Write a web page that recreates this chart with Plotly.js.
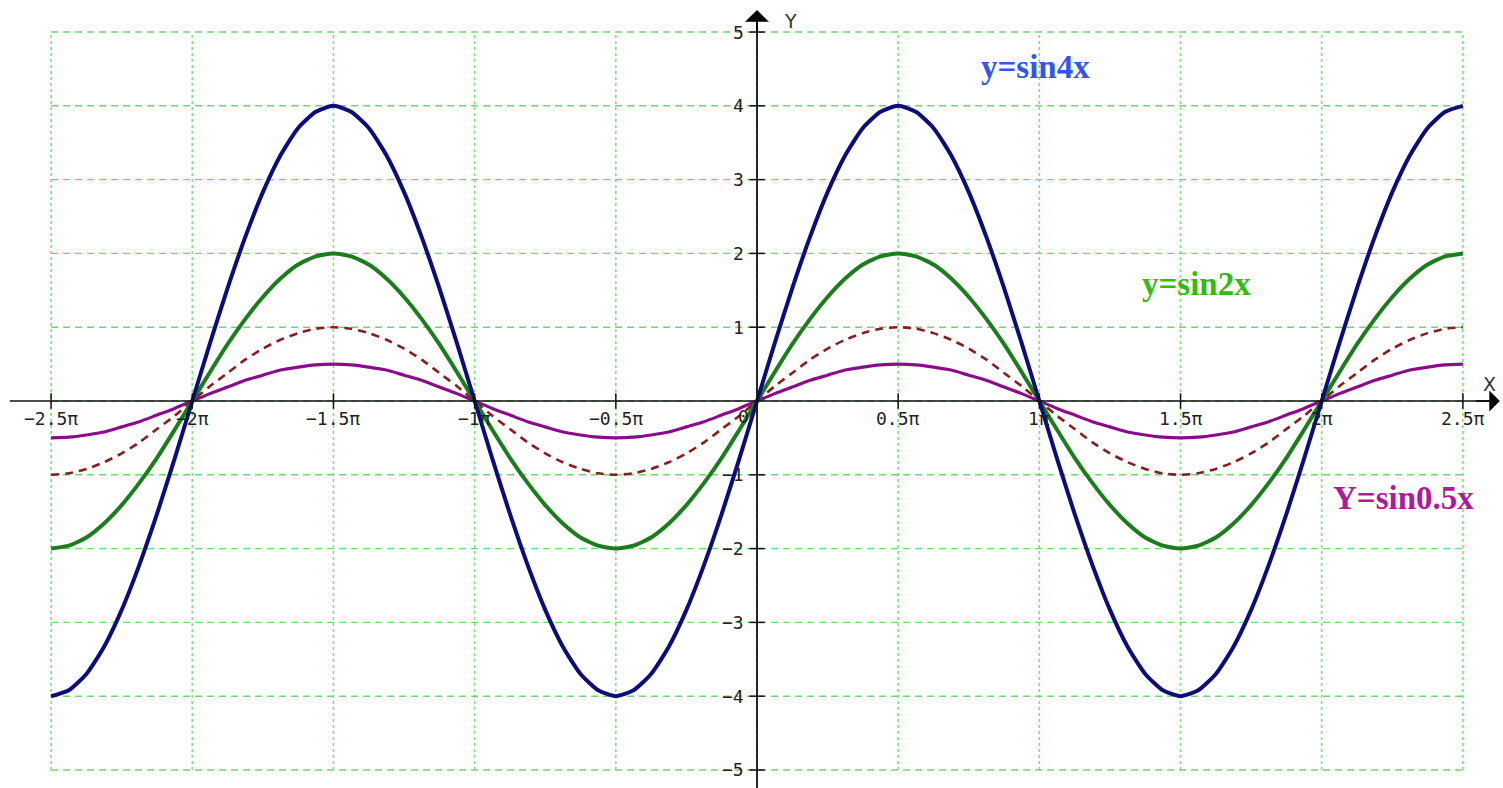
<!DOCTYPE html>
<html>
<head>
<meta charset="utf-8">
<script src="https://cdn.plot.ly/plotly-3.0.1.min.js"></script>
<style>html,body{margin:0;padding:0;background:#fff;}#chart{width:1503px;height:788px;}</style>
</head>
<body>
<div id="chart"></div>
<script>
// x in units of π
const xPi = [-2.5,-2.4375,-2.375,-2.3125,-2.25,-2.1875,-2.125,-2.0625,-2,
  -1.9375,-1.875,-1.8125,-1.75,-1.6875,-1.625,-1.5625,-1.5,
  -1.4375,-1.375,-1.3125,-1.25,-1.1875,-1.125,-1.0625,-1,
  -0.9375,-0.875,-0.8125,-0.75,-0.6875,-0.625,-0.5625,-0.5,
  -0.4375,-0.375,-0.3125,-0.25,-0.1875,-0.125,-0.0625,0,
  0.0625,0.125,0.1875,0.25,0.3125,0.375,0.4375,0.5,
  0.5625,0.625,0.6875,0.75,0.8125,0.875,0.9375,1,
  1.0625,1.125,1.1875,1.25,1.3125,1.375,1.4375,1.5,
  1.5625,1.625,1.6875,1.75,1.8125,1.875,1.9375,2,
  2.0625,2.125,2.1875,2.25,2.3125,2.375,2.4375,2.5];
const y4 = [-4,-3.92,-3.7,-3.33,-2.83,-2.22,-1.53,-0.78,0,0.78,1.53,2.22,2.83,3.33,3.7,3.92,4,
  3.92,3.7,3.33,2.83,2.22,1.53,0.78,0,-0.78,-1.53,-2.22,-2.83,-3.33,-3.7,-3.92,-4,
  -3.92,-3.7,-3.33,-2.83,-2.22,-1.53,-0.78,0,0.78,1.53,2.22,2.83,3.33,3.7,3.92,4,
  3.92,3.7,3.33,2.83,2.22,1.53,0.78,0,-0.78,-1.53,-2.22,-2.83,-3.33,-3.7,-3.92,-4,
  -3.92,-3.7,-3.33,-2.83,-2.22,-1.53,-0.78,0,0.78,1.53,2.22,2.83,3.33,3.7,3.92,4];
const y2 = [-2,-1.96,-1.85,-1.66,-1.41,-1.11,-0.77,-0.39,0,0.39,0.77,1.11,1.41,1.66,1.85,1.96,2,
  1.96,1.85,1.66,1.41,1.11,0.77,0.39,0,-0.39,-0.77,-1.11,-1.41,-1.66,-1.85,-1.96,-2,
  -1.96,-1.85,-1.66,-1.41,-1.11,-0.77,-0.39,0,0.39,0.77,1.11,1.41,1.66,1.85,1.96,2,
  1.96,1.85,1.66,1.41,1.11,0.77,0.39,0,-0.39,-0.77,-1.11,-1.41,-1.66,-1.85,-1.96,-2,
  -1.96,-1.85,-1.66,-1.41,-1.11,-0.77,-0.39,0,0.39,0.77,1.11,1.41,1.66,1.85,1.96,2];
const y1 = [-1,-0.98,-0.92,-0.83,-0.71,-0.56,-0.38,-0.2,0,0.2,0.38,0.56,0.71,0.83,0.92,0.98,1,
  0.98,0.92,0.83,0.71,0.56,0.38,0.2,0,-0.2,-0.38,-0.56,-0.71,-0.83,-0.92,-0.98,-1,
  -0.98,-0.92,-0.83,-0.71,-0.56,-0.38,-0.2,0,0.2,0.38,0.56,0.71,0.83,0.92,0.98,1,
  0.98,0.92,0.83,0.71,0.56,0.38,0.2,0,-0.2,-0.38,-0.56,-0.71,-0.83,-0.92,-0.98,-1,
  -0.98,-0.92,-0.83,-0.71,-0.56,-0.38,-0.2,0,0.2,0.38,0.56,0.71,0.83,0.92,0.98,1];
const yHalf = [-0.5,-0.49,-0.46,-0.42,-0.35,-0.28,-0.19,-0.1,0,0.1,0.19,0.28,0.35,0.42,0.46,0.49,0.5,
  0.49,0.46,0.42,0.35,0.28,0.19,0.1,0,-0.1,-0.19,-0.28,-0.35,-0.42,-0.46,-0.49,-0.5,
  -0.49,-0.46,-0.42,-0.35,-0.28,-0.19,-0.1,0,0.1,0.19,0.28,0.35,0.42,0.46,0.49,0.5,
  0.49,0.46,0.42,0.35,0.28,0.19,0.1,0,-0.1,-0.19,-0.28,-0.35,-0.42,-0.46,-0.49,-0.5,
  -0.49,-0.46,-0.42,-0.35,-0.28,-0.19,-0.1,0,0.1,0.19,0.28,0.35,0.42,0.46,0.49,0.5];

const xTickVals = [-2.5,-2,-1.5,-1,-0.5,0.5,1,1.5,2,2.5];
const xTickText = ['−2.5π','−2π','−1.5π','−1π','−0.5π','0.5π','1π','1.5π','2π','2.5π'];
const yTickVals = [-5,-4,-3,-2,-1,1,2,3,4,5];
const yTickText = ['−5','−4','−3','−2','−1','1','2','3','4','5'];
const gridX = [-2.5,-2,-1.5,-1,-0.5,0,0.5,1,1.5,2,2.5];
const gridY = [-5,-4,-3,-2,-1,0,1,2,3,4,5];

const labels = ['y=sin4x','y=sin2x','Y=sin0.5x'];
const labelColors = ['#3355ee','#33bb11','#b0189e'];

const xRange = [-2.681, 2.642];
const yRange = [-5.244, 5.434];

const traces = [
  {x:xPi, y:yHalf, mode:'lines', line:{color:'#8a0c8a', width:3.2, shape:'spline', smoothing:0.6}, hoverinfo:'skip'},
  {x:xPi, y:y1, mode:'lines', line:{color:'#8b1c1c', width:2.6, dash:'8px,6px', shape:'spline', smoothing:0.6}, hoverinfo:'skip'},
  {x:xPi, y:y2, mode:'lines', line:{color:'#1b7d1b', width:4, shape:'spline', smoothing:0.6}, hoverinfo:'skip'},
  {x:xPi, y:y4, mode:'lines', line:{color:'#0c0c7a', width:4, shape:'spline', smoothing:0.6}, hoverinfo:'skip'},
  // tick crosses
  {x:xTickVals, y:xTickVals.map(()=>0), mode:'markers', marker:{symbol:'line-ns', size:11, line:{color:'#111', width:1.5}}, hoverinfo:'skip'},
  {x:yTickVals.map(()=>0), y:yTickVals, mode:'markers', marker:{symbol:'line-ew', size:11, line:{color:'#111', width:1.5}}, hoverinfo:'skip'}
];

const shapes = [];
gridX.forEach(v => shapes.push({type:'line', layer:'below', x0:v, x1:v, y0:-5, y1:5, line:{color:'#7ee07e', width:1.6, dash:'3px,3px'}}));
gridY.forEach(v => shapes.push({type:'line', layer:'below', x0:-2.5, x1:2.5, y0:v, y1:v, line:{color:'#6fd66f', width:1.4, dash:'7px,5px'}}));
// axis lines
shapes.push({type:'line', x0:-2.646, x1:2.6, y0:0, y1:0, line:{color:'#111', width:1.6}});
shapes.push({type:'line', x0:0, x1:0, y0:yRange[0], y1:5.2, line:{color:'#111', width:1.8}});

const tickFont = {family:'DejaVu Sans Mono, monospace', size:18, color:'#222'};
const annotations = [];
xTickVals.forEach((v,i) => annotations.push({x:v, y:0, text:xTickText[i], showarrow:false, xanchor:'center', yanchor:'middle', yshift:-17, font:tickFont}));
yTickVals.forEach((v,i) => annotations.push({x:0, y:v, text:yTickText[i], showarrow:false, xanchor:'right', yanchor:'middle', xshift:-11, font:tickFont}));
annotations.push({x:0, y:0, text:'0', showarrow:false, xanchor:'right', yanchor:'top', xshift:-6, yshift:-3, font:tickFont});
// arrowheads
annotations.push({x:2.631, y:0, ax:2.54, ay:0, axref:'x', ayref:'y', xref:'x', yref:'y', text:'', showarrow:true, arrowhead:1, arrowsize:2.2, arrowwidth:1.6, arrowcolor:'#000'});
annotations.push({x:0, y:5.30, ax:0, ay:5.0, axref:'x', ayref:'y', xref:'x', yref:'y', text:'', showarrow:true, arrowhead:1, arrowsize:2.2, arrowwidth:1.8, arrowcolor:'#000'});
annotations.push({x:2.594, y:0.23, text:'X', showarrow:false, font:{family:'DejaVu Sans, sans-serif', size:19, color:'#333'}});
annotations.push({x:0.12, y:5.15, text:'Y', showarrow:false, font:{family:'DejaVu Sans, sans-serif', size:19, color:'#333'}});
// function labels
const labelPos = [[0.988,4.53],[1.558,1.585],[2.291,-1.314]];
labels.forEach((t,i) => annotations.push({x:labelPos[i][0], y:labelPos[i][1], text:'<b>'+t+'</b>', showarrow:false, xanchor:'center', yanchor:'middle', font:{family:'Liberation Serif, Times New Roman, serif', size:33, color:labelColors[i]}}));

const layout = {
  width:1503, height:788,
  margin:{l:0, r:0, t:0, b:0},
  paper_bgcolor:'#fff', plot_bgcolor:'#fff',
  showlegend:false,
  xaxis:{range:xRange, visible:false, showgrid:false, zeroline:false, fixedrange:true},
  yaxis:{range:yRange, visible:false, showgrid:false, zeroline:false, fixedrange:true},
  shapes:shapes,
  annotations:annotations
};

Plotly.newPlot('chart', traces, layout, {staticPlot:true, displayModeBar:false});
</script>
</body>
</html>
